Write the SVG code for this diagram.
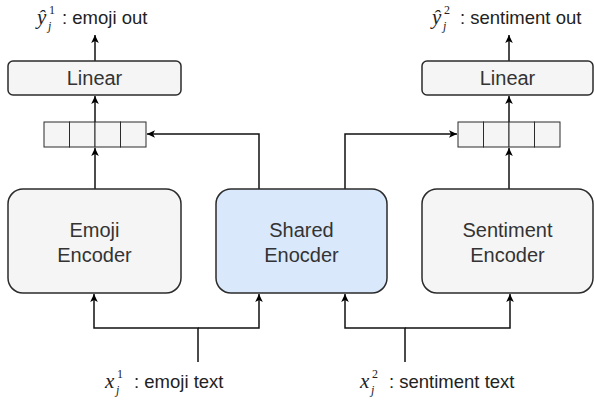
<svg xmlns="http://www.w3.org/2000/svg" width="594" height="401" viewBox="0 0 594 401">
<defs>
<marker id="arr" markerUnits="userSpaceOnUse" markerWidth="10" markerHeight="10" viewBox="0 0 10 10" refX="9" refY="5" orient="auto">
<path d="M1,1.2 L9,5 L1,8.8 L3,5 Z" fill="#000"/>
</marker>
<style>
.box{fill:#f5f5f5;stroke:#2b2b2b;stroke-width:1.5}
.shared{fill:#dae8fc;stroke:#2b2b2b;stroke-width:1.5}
.cell{fill:#f5f5f5;stroke:#2b2b2b;stroke-width:1}
.t{font-family:"Liberation Sans",Arial,sans-serif;font-size:20px;fill:#333;text-anchor:middle}
.lbl{font-family:"Liberation Sans",Arial,sans-serif;font-size:18.5px;fill:#222}
.math{font-family:"Liberation Serif","Times New Roman",serif;font-style:italic;font-size:21px;fill:#222}
.sm{font-family:"Liberation Serif","Times New Roman",serif;font-size:12px;fill:#222}
.smi{font-family:"Liberation Serif","Times New Roman",serif;font-style:italic;font-size:12px;fill:#222}
.c{fill:none;stroke:#111;stroke-width:1.5}
</style>
</defs>
<g id="connectors">
<path class="c" d="M95,189 V148" marker-end="url(#arr)"/>
<path class="c" d="M95,122 V96" marker-end="url(#arr)"/>
<path class="c" d="M95,61 V35" marker-end="url(#arr)"/>
<path class="c" d="M509,189 V148" marker-end="url(#arr)"/>
<path class="c" d="M509,122 V96" marker-end="url(#arr)"/>
<path class="c" d="M509,61 V35" marker-end="url(#arr)"/>
<path class="c" d="M259,189 V134 H147" marker-end="url(#arr)"/>
<path class="c" d="M345,189 V134 H457" marker-end="url(#arr)"/>
<path class="c" d="M198,362 V328 H94 V294" marker-end="url(#arr)"/>
<path class="c" d="M198,328 H259 V294" marker-end="url(#arr)"/>
<path class="c" d="M405,362 V328 H345 V294" marker-end="url(#arr)"/>
<path class="c" d="M405,328 H510 V294" marker-end="url(#arr)"/>
</g>
<g id="linear1">
<rect class="box" x="8" y="61" width="173" height="34" rx="5"/>
<text class="t" x="94.5" y="85">Linear</text>
</g>
<g id="linear2">
<rect class="box" x="422" y="61" width="171" height="34" rx="5"/>
<text class="t" x="507.5" y="85">Linear</text>
</g>
<g id="vector1">
<rect class="cell" x="44" y="122" width="25.5" height="25"/>
<rect class="cell" x="69.5" y="122" width="25.5" height="25"/>
<rect class="cell" x="95" y="122" width="25.5" height="25"/>
<rect class="cell" x="120.5" y="122" width="25.5" height="25"/>
</g>
<g id="vector2">
<rect class="cell" x="458" y="122" width="25.5" height="25"/>
<rect class="cell" x="483.5" y="122" width="25.5" height="25"/>
<rect class="cell" x="509" y="122" width="25.5" height="25"/>
<rect class="cell" x="534.5" y="122" width="25.5" height="25"/>
</g>
<g id="emoji-encoder">
<rect class="box" x="8" y="189" width="173" height="104" rx="15"/>
<text class="t" x="94.5" y="237">Emoji</text>
<text class="t" x="94.5" y="262">Encoder</text>
</g>
<g id="shared-encoder">
<rect class="shared" x="216" y="189" width="171" height="104" rx="15"/>
<text class="t" x="301.5" y="237">Shared</text>
<text class="t" x="301.5" y="262">Enocder</text>
</g>
<g id="sentiment-encoder">
<rect class="box" x="422" y="189" width="171" height="104" rx="15"/>
<text class="t" x="507.5" y="237">Sentiment</text>
<text class="t" x="507.5" y="262">Encoder</text>
</g>
<g id="label-emoji-out">
<text class="math" x="37" y="24">ŷ</text>
<text class="sm" x="49" y="14">1</text>
<text class="smi" x="48" y="30">j</text>
<text class="lbl" x="62" y="24">: emoji out</text>
</g>
<g id="label-sentiment-out">
<text class="math" x="432" y="24">ŷ</text>
<text class="sm" x="444" y="14">2</text>
<text class="smi" x="443" y="30">j</text>
<text class="lbl" x="460" y="24">: sentiment out</text>
</g>
<g id="label-emoji-text">
<text class="math" x="105" y="388">x</text>
<text class="sm" x="117" y="378">1</text>
<text class="smi" x="116" y="394">j</text>
<text class="lbl" x="134" y="388">: emoji text</text>
</g>
<g id="label-sentiment-text">
<text class="math" x="360" y="388">x</text>
<text class="sm" x="372" y="378">2</text>
<text class="smi" x="371" y="394">j</text>
<text class="lbl" x="389" y="388">: sentiment text</text>
</g>
</svg>
